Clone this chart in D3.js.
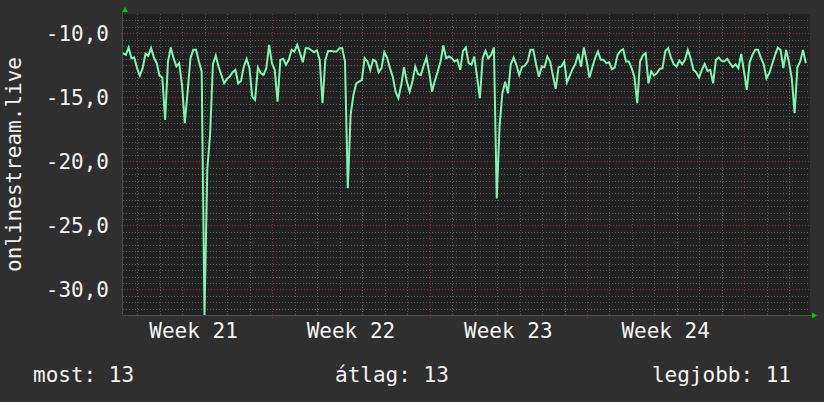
<!DOCTYPE html>
<html lang="hu">
	<head>
		<meta charset="utf-8">
		<title>onlinestream.live</title>
		<script type="text/javascript" src="https://cdn.jsdelivr.net/npm/d3@7"></script>
		<style type="text/css">
			body{margin:0;background-color:#2f2f2f;}
			svg{display:block;}
			text{font-family:"DejaVu Sans Mono",monospace;font-size:21px;fill:#f4f4f4;}
		</style>
	</head>
	<body>
		<script type="text/javascript">

// data, one value every 3 hours
var seriesName = "onlinestream.live";
var startTime = "2023-05-22T08:38:00Z";
var endTime = "2023-06-21T22:05:00Z";
var stepHours = 3;

var values = [
	-11.56,-11.69,-11.12,-11.95,-11.90,-12.73,-13.31,-12.73,-11.61,-11.77,
	-11.15,-11.90,-12.34,-13.31,-13.46,-16.77,-12.21,-11.12,-11.95,-12.60,
	-12.34,-14.04,-17.03,-14.56,-11.95,-11.30,-11.30,-12.21,-12.99,-32.00,
	-20.60,-17.90,-12.42,-11.74,-12.60,-13.26,-13.91,-13.57,-13.39,-13.05,
	-12.86,-13.91,-13.72,-12.60,-12.00,-12.73,-14.95,-15.21,-12.68,-13.12,
	-13.26,-12.73,-10.91,-12.34,-12.86,-15.34,-12.08,-12.00,-12.47,-12.08,
	-11.30,-11.43,-10.91,-11.56,-12.27,-11.17,-11.17,-11.33,-11.48,-11.33,
	-12.08,-15.47,-12.08,-11.38,-11.38,-11.43,-11.43,-11.17,-11.17,-12.21,
	-22.10,-16.38,-14.82,-13.91,-13.78,-13.65,-11.95,-12.21,-12.86,-12.08,
	-12.21,-13.05,-12.73,-11.48,-11.90,-12.73,-13.39,-14.56,-15.08,-14.04,
	-12.66,-13.78,-14.56,-13.78,-12.60,-13.20,-13.26,-12.53,-11.90,-13.12,
	-14.56,-13.70,-12.99,-12.21,-10.96,-11.95,-11.82,-11.95,-12.21,-12.08,
	-12.86,-11.38,-11.12,-12.34,-12.47,-11.82,-13.39,-15.08,-11.95,-11.38,
	-11.95,-11.69,-11.12,-22.90,-17.29,-14.69,-13.78,-14.69,-12.42,-11.90,
	-12.47,-13.26,-12.63,-12.53,-12.21,-11.30,-11.30,-12.42,-13.39,-12.60,
	-12.66,-11.82,-12.21,-13.31,-14.35,-12.66,-12.60,-12.21,-13.83,-13.31,
	-12.79,-12.40,-11.61,-12.60,-11.12,-12.16,-13.46,-12.68,-11.95,-11.43,
	-12.08,-12.08,-12.34,-12.27,-12.81,-12.68,-11.69,-11.38,-11.25,-12.21,
	-12.21,-12.73,-13.39,-15.47,-12.21,-11.74,-11.56,-13.91,-12.99,-13.31,
	-13.12,-12.79,-12.73,-11.38,-11.17,-11.90,-12.42,-12.60,-12.14,-12.42,
	-12.08,-11.30,-11.95,-12.86,-13.05,-13.46,-12.86,-12.40,-12.94,-12.86,
	-13.91,-12.08,-11.90,-12.16,-12.21,-12.00,-12.34,-12.63,-12.42,-12.73,
	-11.61,-12.99,-14.43,-12.27,-11.69,-11.30,-11.30,-11.90,-12.42,-13.52,
	-13.12,-12.42,-11.74,-11.12,-11.30,-12.73,-11.30,-12.27,-13.52,-16.25,
	-12.68,-12.21,-11.30,-12.34
];

var weekStarts = ["2023-05-22","2023-05-29","2023-06-05","2023-06-12"];
var weekLabels = ["Week 21","Week 22","Week 23","Week 24"];
var yTicks = [-30,-25,-20,-15,-10];
var yDomain = [-32,-8.5];
var legendLabels = ["most: 13","átlag: 13","legjobb: 11"];

var w = 824;
var h = 402;
var plotL = 123, plotR = 810, plotT = 14, plotB = 315;

var fmt = d3.formatLocale({decimal:",",thousands:".",grouping:[3],currency:["",""],minus:"-"}).format(".1f");

var t0 = new Date(startTime);
var data = values.map(function(v, i) {
	return {t: new Date(t0.getTime() + i * stepHours * 3600000), v: v};
});

var x = d3.scaleUtc()
	.domain([new Date(startTime), new Date(endTime)])
	.range([plotL, plotR]);

var y = d3.scaleLinear()
	.domain(yDomain)
	.range([plotB, plotT]);

var svg = d3.select("body")
	.append("svg")
	.attr("width", w)
	.attr("height", h);

svg.append("rect")
	.attr("width", w)
	.attr("height", h)
	.style("fill", "#2f2f2f");

svg.append("rect")
	.attr("x", plotL)
	.attr("y", plotT)
	.attr("width", plotR - plotL)
	.attr("height", plotB - plotT)
	.style("fill", "#212121");

var grid = svg.append("g")
	.attr("shape-rendering", "crispEdges")
	.style("stroke-dasharray", "1,2")
	.style("stroke-width", 1);

//minor horizontal grid every 0,5
var minorY = d3.range(yDomain[0] + 0.5, yDomain[1], 0.5).filter(function(v) { return v % 5 !== 0; });
grid.selectAll("line.my")
	.data(minorY)
	.enter()
	.append("line")
	.attr("x1", plotL).attr("x2", plotR)
	.attr("y1", function(d) { return Math.round(y(d)) + 0.5; })
	.attr("y2", function(d) { return Math.round(y(d)) + 0.5; })
	.style("stroke", "#5c5c5c");

//daily vertical grid
var days = d3.utcDay.range(x.domain()[0], x.domain()[1]).filter(function(d) { return d.getUTCDay() !== 1; });
grid.selectAll("line.mx")
	.data(days)
	.enter()
	.append("line")
	.attr("x1", function(d) { return Math.round(x(d)) + 0.5; })
	.attr("x2", function(d) { return Math.round(x(d)) + 0.5; })
	.attr("y1", plotT).attr("y2", plotB + 2)
	.style("stroke", "#5c5c5c");

//major lines
grid.selectAll("line.My")
	.data(yTicks)
	.enter()
	.append("line")
	.attr("x1", plotL - 2).attr("x2", plotR)
	.attr("y1", function(d) { return Math.round(y(d)) + 0.5; })
	.attr("y2", function(d) { return Math.round(y(d)) + 0.5; })
	.style("stroke", "#733838");

var mondays = d3.utcMonday.range(x.domain()[0], x.domain()[1]);
grid.selectAll("line.Mx")
	.data(mondays)
	.enter()
	.append("line")
	.attr("x1", function(d) { return Math.round(x(d)) + 0.5; })
	.attr("x2", function(d) { return Math.round(x(d)) + 0.5; })
	.attr("y1", plotT).attr("y2", plotB + 4)
	.style("stroke", "#733838");

//axes
svg.append("line")
	.attr("x1", plotL).attr("x2", plotR + 2)
	.attr("y1", plotB + 0.5).attr("y2", plotB + 0.5)
	.style("stroke", "#4a4a4a");
svg.append("line")
	.attr("x1", plotL - 0.5).attr("x2", plotL - 0.5)
	.attr("y1", plotT - 3).attr("y2", plotB)
	.style("stroke", "#4a4a4a");

//green arrows
svg.append("path")
	.attr("d", "M" + (plotL + 2) + "," + (plotT - 7) + "l-3,5h6z")
	.style("fill", "#00d000");
svg.append("path")
	.attr("d", "M" + (plotR + 7) + "," + (plotB + 0.5) + "l-5,-3v6z")
	.style("fill", "#00d000");

var line = d3.line()
	.x(function(d) { return x(d.t); })
	.y(function(d) { return y(d.v); });

svg.append("path")
	.datum(data)
	.attr("d", line)
	.style("fill", "none")
	.style("stroke", "#7ff4b6")
	.style("stroke-width", 2)
	.style("stroke-linejoin", "miter");

//labels
svg.selectAll("text.ylab")
	.data(yTicks)
	.enter()
	.append("text")
	.attr("x", 109)
	.attr("y", function(d) { return y(d); })
	.attr("dy", "0.35em")
	.attr("text-anchor", "end")
	.text(function(d) { return fmt(d); });

var weeks = weekStarts.map(function(s) { return new Date(s + "T00:00:00Z"); });
svg.selectAll("text.xlab")
	.data(weeks)
	.enter()
	.append("text")
	.attr("x", function(d) { return x(d3.utcHour.offset(d, 84)); })
	.attr("y", 338)
	.attr("text-anchor", "middle")
	.text(function(d, i) { return weekLabels[i]; });

svg.append("text")
	.attr("transform", "translate(21," + ((plotT + plotB) / 2) + ") rotate(-90)")
	.attr("text-anchor", "middle")
	.text(seriesName);

var legendX = [33, 335, 791];
var legendAnchor = ["start", "start", "end"];
svg.selectAll("text.leg")
	.data(legendLabels)
	.enter()
	.append("text")
	.attr("x", function(d, i) { return legendX[i]; })
	.attr("y", 382)
	.attr("text-anchor", function(d, i) { return legendAnchor[i]; })
	.text(function(d) { return d; });

		</script>
	</body>
</html>
